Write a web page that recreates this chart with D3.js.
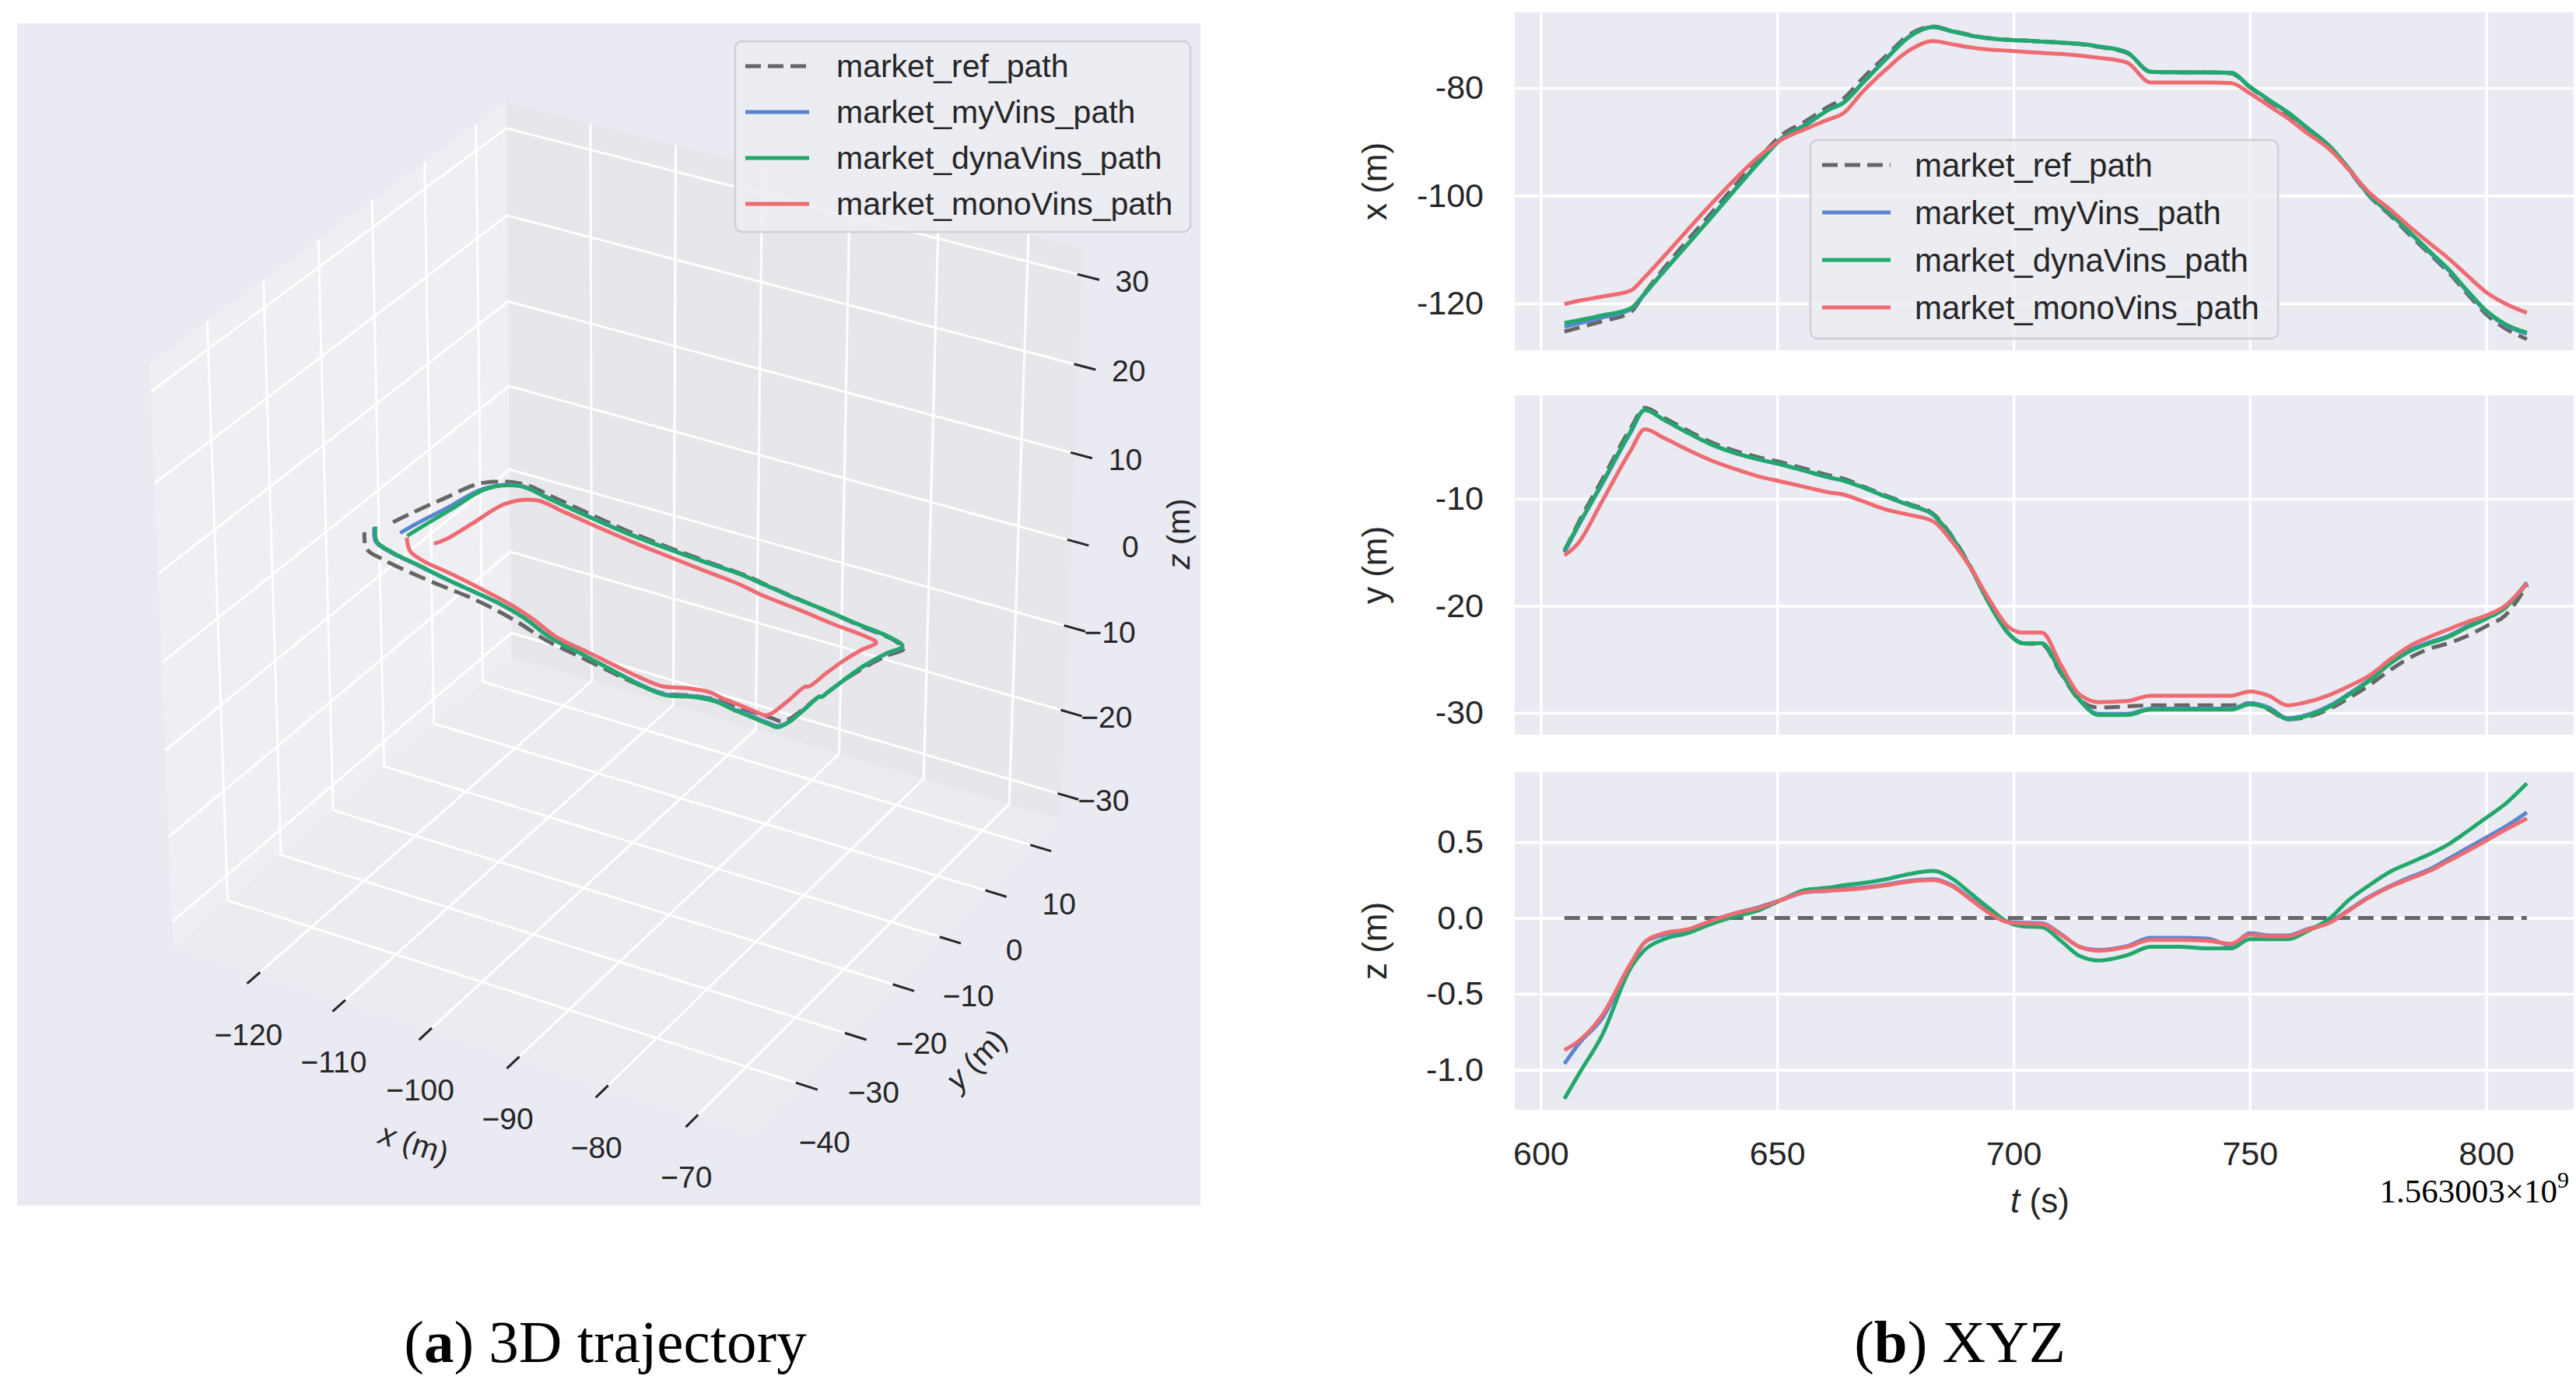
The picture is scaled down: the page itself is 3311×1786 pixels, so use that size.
<!DOCTYPE html>
<html lang="en">
<head>
  <meta charset="UTF-8">
  <title>market trajectory</title>
  <style>
    html, body { margin: 0; background: #fff; }
    svg { display: block; }
    text { font-family: "Liberation Sans", Arial, sans-serif; fill: #262626; }
    .serif { font-family: "Liberation Serif", "Times New Roman", serif; fill: #000; }
  </style>
</head>
<body>
<svg id="chart" width="3311" height="1786"></svg>
<script src="https://cdn.jsdelivr.net/npm/d3@7"></script>
<script>
// ---- data (t in s, offset 1.563003e9) ----
const t = [605, 608, 613, 619, 622, 626, 631, 636, 641, 646, 651, 656, 661, 664, 668, 673, 678, 683, 687, 691,
  695, 699, 702, 706, 710, 714, 718, 724, 729, 735, 741, 746, 750, 754, 758, 762, 767, 771, 775, 780,
  784, 788, 792, 796, 800, 804, 808.6]

const refX = [-125.2, -124.5, -123.3, -121.6, -118.0, -113.5, -108.3, -103.3, -98.2, -93.2, -88.7, -86.2, -83.4, -82.0, -78.3, -74.1, -70.1, -68.6, -69.4, -70.2,
  -70.8, -71.1, -71.2, -71.4, -71.6, -71.9, -72.4, -73.5, -77.0, -77.1, -77.1, -77.3, -79.9, -82.4, -84.8, -87.6, -91.2, -95.3, -99.8, -103.9,
  -107.4, -110.8, -114.2, -118.2, -122.0, -124.6, -126.6]
const refY = [-14.9, -12.2, -8.2, -3.4, -1.5, -2.4, -3.6, -4.7, -5.5, -6.1, -6.6, -7.2, -7.8, -8.1, -8.8, -9.7, -10.5, -11.4, -13.5, -16.4,
  -19.8, -22.6, -23.5, -23.6, -26.3, -28.8, -29.5, -29.4, -29.3, -29.3, -29.3, -29.3, -29.1, -29.7, -30.6, -30.4, -29.6, -28.6, -27.5, -25.9,
  -24.8, -24.0, -23.5, -22.8, -21.9, -20.9, -18.1]
const refZ = [0, 0, 0, 0, 0, 0, 0, 0, 0, 0, 0, 0, 0, 0, 0, 0, 0, 0, 0, 0,
  0, 0, 0, 0, 0, 0, 0, 0, 0, 0, 0, 0, 0, 0, 0, 0, 0, 0, 0, 0,
  0, 0, 0, 0, 0, 0, 0]

const myX = [-124.3, -123.7, -122.6, -121.1, -118.2, -114.0, -109.0, -104.0, -98.9, -93.9, -89.3, -86.8, -84.0, -82.7, -79.1, -74.6, -70.4, -68.7, -69.5, -70.3,
  -70.8, -71.1, -71.2, -71.4, -71.6, -71.8, -72.3, -73.4, -77.0, -77.1, -77.1, -77.2, -79.8, -82.2, -84.6, -87.4, -91.0, -95.1, -99.7, -103.6,
  -107.0, -110.5, -113.8, -117.8, -121.5, -124.0, -125.6]
const myY = [-15.0, -12.5, -8.6, -3.8, -1.7, -2.6, -3.8, -4.9, -5.7, -6.3, -6.8, -7.4, -8.0, -8.3, -8.9, -9.8, -10.6, -11.5, -13.6, -16.5,
  -19.9, -22.6, -23.5, -23.5, -26.2, -28.8, -30.1, -30.1, -29.6, -29.6, -29.6, -29.6, -29.1, -29.5, -30.5, -30.2, -29.3, -28.2, -27.0, -25.2,
  -24.1, -23.4, -22.8, -21.9, -21.1, -20.1, -17.8]
const myZ = [-0.96, -0.83, -0.66, -0.31, -0.16, -0.11, -0.08, -0.02, 0.03, 0.07, 0.12, 0.17, 0.18, 0.19, 0.20, 0.22, 0.245, 0.255, 0.215, 0.125,
  0.035, -0.025, -0.03, -0.035, -0.105, -0.19, -0.21, -0.185, -0.13, -0.13, -0.135, -0.18, -0.10, -0.115, -0.115, -0.075, -0.025, 0.055, 0.135, 0.215,
  0.27, 0.32, 0.39, 0.46, 0.53, 0.60, 0.695]

const dynaX = [-123.6, -123.1, -122.2, -120.9, -118.1, -114.1, -109.1, -104.1, -99.0, -94.0, -89.4, -86.9, -84.0, -82.8, -79.2, -74.7, -70.5, -68.7, -69.5, -70.3,
  -70.8, -71.1, -71.2, -71.4, -71.6, -71.8, -72.3, -73.4, -77.0, -77.1, -77.1, -77.2, -79.8, -82.2, -84.5, -87.3, -90.9, -95.0, -99.6, -103.5,
  -106.9, -110.3, -113.6, -117.6, -121.3, -123.8, -125.4]
const dynaY = [-14.8, -12.4, -8.5, -3.7, -1.7, -2.6, -3.8, -4.9, -5.7, -6.3, -6.8, -7.4, -8.0, -8.3, -8.9, -9.8, -10.6, -11.5, -13.6, -16.5,
  -19.9, -22.6, -23.5, -23.5, -26.2, -28.8, -30.2, -30.2, -29.7, -29.7, -29.7, -29.7, -29.2, -29.6, -30.6, -30.3, -29.4, -28.3, -27.1, -25.3,
  -24.2, -23.5, -22.9, -22.0, -21.2, -20.2, -17.9]
const dynaZ = [-1.19, -1.03, -0.77, -0.33, -0.21, -0.14, -0.10, -0.04, 0.01, 0.05, 0.12, 0.185, 0.20, 0.215, 0.23, 0.255, 0.29, 0.31, 0.26, 0.16,
  0.06, -0.03, -0.055, -0.06, -0.15, -0.25, -0.28, -0.245, -0.19, -0.19, -0.20, -0.20, -0.14, -0.14, -0.14, -0.09, 0.00, 0.12, 0.21, 0.31,
  0.365, 0.42, 0.485, 0.57, 0.66, 0.75, 0.887]

const monoX = [-120.1, -119.5, -118.7, -117.6, -115.1, -111.3, -106.4, -101.6, -97.0, -92.8, -89.6, -87.6, -85.8, -84.7, -80.8, -76.6, -73.0, -71.3, -71.9, -72.5,
  -72.9, -73.1, -73.3, -73.5, -73.7, -74.0, -74.4, -75.3, -79.0, -79.0, -79.0, -79.1, -81.0, -83.3, -85.6, -88.3, -91.5, -95.2, -99.2, -102.8,
  -105.9, -108.8, -111.6, -114.8, -117.9, -120.0, -121.7]
const monoY = [-15.3, -14.1, -10.2, -5.5, -3.5, -4.3, -5.4, -6.4, -7.2, -7.9, -8.4, -8.9, -9.4, -9.6, -10.2, -11.0, -11.5, -12.1, -14.0, -16.5,
  -19.5, -22.0, -22.5, -22.5, -25.5, -28.3, -29.0, -28.9, -28.4, -28.4, -28.4, -28.4, -28.0, -28.4, -29.3, -29.0, -28.3, -27.5, -26.6, -24.9,
  -23.7, -22.9, -22.2, -21.5, -20.9, -20.0, -17.9]
const monoZ = [-0.87, -0.81, -0.64, -0.30, -0.16, -0.10, -0.075, -0.02, 0.03, 0.065, 0.12, 0.17, 0.18, 0.185, 0.195, 0.215, 0.24, 0.25, 0.21, 0.12,
  0.03, -0.03, -0.035, -0.04, -0.11, -0.19, -0.215, -0.19, -0.145, -0.145, -0.15, -0.17, -0.11, -0.12, -0.12, -0.08, -0.03, 0.05, 0.13, 0.21,
  0.26, 0.31, 0.375, 0.44, 0.51, 0.58, 0.655]

const names = ['market_ref_path', 'market_myVins_path', 'market_dynaVins_path', 'market_monoVins_path']
const colors = ['#666666', '#5a86cf', '#22a86c', '#ee6b72']

// 3D axis ticks
const xTicks3 = [-120, -110, -100, -90, -80, -70]
const yTicks3 = [-40, -30, -20, -10, 0, 10]
const zTicks3 = [-30, -20, -10, 0, 10, 20, 30]
// XYZ ticks
const tTicks = [600, 650, 700, 750, 800]
const xTicks = [-120, -100, -80]
const yTicks = [-30, -20, -10]
const zTicks = [-1.0, -0.5, 0.0, 0.5]

const series = names.map((name, i) => ({
  name, color: colors[i], dashed: i === 0,
  x: [refX, myX, dynaX, monoX][i],
  y: [refY, myY, dynaY, monoY][i],
  z: [refZ, myZ, dynaZ, monoZ][i]
}))

const svg = d3.select('#chart')

function legend(g, x, y, w, h, rowY, rowStep, hx0, hx1, tx, fs) {
  const lg = g.append('g')
  lg.append('rect').attr('x', x).attr('y', y).attr('width', w).attr('height', h)
    .attr('rx', 9).attr('fill', 'rgb(236,236,243)').attr('fill-opacity', 0.85)
    .attr('stroke', '#cfcfd4').attr('stroke-width', 2.5)
  series.forEach((s, i) => {
    const yy = rowY + i * rowStep
    lg.append('line').attr('x1', hx0).attr('x2', hx1).attr('y1', yy).attr('y2', yy)
      .attr('stroke', s.color).attr('stroke-width', 5)
      .attr('stroke-dasharray', s.dashed ? '20,9' : null)
    lg.append('text').attr('x', tx).attr('y', yy).attr('dominant-baseline', 'central')
      .attr('font-size', fs).text(s.name)
  })
}

// ================= (a) 3D trajectory =================
const g3 = svg.append('g')
g3.append('rect').attr('x', 22).attr('y', 30).attr('width', 1521).attr('height', 1519).attr('fill', '#eaeaf2')

const xlim = [-130, -64], ylim = [-50, 16], zlim = [-33, 33]
const [x0, x1] = xlim, [y0, y1] = ylim, [z0, z1] = zlim
const nx = d3.scaleLinear().domain(xlim).range([-0.5, 0.5])
const ny = d3.scaleLinear().domain(ylim).range([-0.5, 0.5])
const nz = d3.scaleLinear().domain(zlim).range([-0.5, 0.5])

// camera like matplotlib: azim -60, elev 30, dist 10
const az = -60 * Math.PI / 180, el = 30 * Math.PI / 180, dist = 10
const nvec = [Math.cos(az) * Math.cos(el), Math.sin(az) * Math.cos(el), Math.sin(el)]
const uvec = [-Math.sin(az), Math.cos(az), 0]
const vvec = [-Math.sin(el) * Math.cos(az), -Math.sin(el) * Math.sin(az), Math.cos(el)]
const sx = d3.scaleLinear().domain([-0.1, 0.1]).range([802 - 856, 802 + 856])
const sy = d3.scaleLinear().domain([-0.1, 0.1]).range([772 + 856, 772 - 856])
const dot = (a, b) => a[0] * b[0] + a[1] * b[1] + a[2] * b[2]

function proj(x, y, z) {
  const q = [nx(x), ny(y), nz(z)]
  const d = dist - dot(nvec, q)
  return [sx(dot(uvec, q) / d), sy(dot(vvec, q) / d)]
}
const line3 = d3.line()
const path3 = pts => line3(pts.map(p => proj(...p)))

// panes
const panes = [
  { pts: [[x0, y0, z0], [x0, y1, z0], [x0, y1, z1], [x0, y0, z1]], fill: '#efeff3' },
  { pts: [[x0, y1, z0], [x1, y1, z0], [x1, y1, z1], [x0, y1, z1]], fill: '#e7e7eb' },
  { pts: [[x0, y0, z0], [x1, y0, z0], [x1, y1, z0], [x0, y1, z0]], fill: '#ececf0' }
]
g3.selectAll('path.pane').data(panes).join('path').attr('class', 'pane')
  .attr('d', d => path3(d.pts) + 'Z').attr('fill', d => d.fill)

// grid lines
const grid = []
xTicks3.forEach(v => grid.push([[v, y0, z0], [v, y1, z0], [v, y1, z1]]))
yTicks3.forEach(v => grid.push([[x1, v, z0], [x0, v, z0], [x0, v, z1]]))
zTicks3.forEach(v => grid.push([[x0, y0, v], [x0, y1, v], [x1, y1, v]]))
g3.selectAll('path.grid').data(grid).join('path').attr('class', 'grid')
  .attr('d', path3).attr('fill', 'none').attr('stroke', '#fff').attr('stroke-width', 3)

// tick marks and labels
const tin = 0.5, tout = 1.9
const fmt3 = d3.format('d')
const tickG = g3.append('g')
function tick3(a, b, lab, dx, dy, anchor) {
  tickG.append('path').attr('d', path3([a, b])).attr('stroke', '#262626').attr('stroke-width', 3)
  const p = proj(...a)
  tickG.append('text').attr('x', p[0] + dx).attr('y', p[1] + dy)
    .attr('text-anchor', anchor).attr('dominant-baseline', 'central')
    .attr('font-size', 39).text(lab)
}
xTicks3.forEach(v => tick3([v, y0 + tin, z0], [v, y0 - tout, z0], fmt3(v), -15, 80, 'middle'))
yTicks3.forEach(v => tick3([x1 - tin, v, z0], [x1 + tout, v, z0], fmt3(v), 37, 76, 'middle'))
zTicks3.forEach(v => tick3([x1 - tin, y1, v], [x1 + tout, y1, v], fmt3(v), 92, 9, 'end'))

// axis labels
function axLabel3(p, dx, dy, rot, v) {
  const tx = g3.append('text').attr('text-anchor', 'middle').attr('dominant-baseline', 'central')
    .attr('font-size', 40)
    .attr('transform', `translate(${p[0] + dx},${p[1] + dy}) rotate(${rot})`)
  tx.append('tspan').attr('font-style', 'italic').text(v)
  tx.append('tspan').text(' (m)')
}
axLabel3(proj(d3.mean(xlim), y0, z0), -53, 134, 18, 'x')
axLabel3(proj(x1, d3.mean(ylim), z0), 83, 113, -45, 'y')
axLabel3(proj(x1, y1, d3.mean(zlim)), 137, -9, -90, 'z')

// trajectories
const curve3 = d3.line().curve(d3.curveCatmullRom.alpha(0.5))
series.forEach(s => {
  const pts = t.map((_, i) => proj(s.x[i], s.y[i], s.z[i]))
  g3.append('path').attr('d', curve3(pts)).attr('fill', 'none')
    .attr('stroke', s.color).attr('stroke-width', 5).attr('stroke-linejoin', 'round')
    .attr('stroke-dasharray', s.dashed ? '22,9' : null)
})

legend(g3, 945, 53, 585, 245, 85, 59, 958, 1040, 1075, 41)

// ================= (b) XYZ =================
const gx = svg.append('g')
const tScale = d3.scaleLinear().domain([594.5, 818.5]).range([1947, 3308])
const panels = [
  { key: 'x', dom: [-128.66, -66.0], top: 16, bottom: 450, ticks: xTicks, fmt: d3.format('d') },
  { key: 'y', dom: [-32.04, -0.33], top: 508, bottom: 944, ticks: yTicks, fmt: d3.format('d') },
  { key: 'z', dom: [-1.263, 0.961], top: 992, bottom: 1426, ticks: zTicks, fmt: d3.format('.1f') }
]
const hy = s => s.replace('\u2212', '-')
const [L, R] = tScale.range()

panels.forEach((pn, k) => {
  const yS = d3.scaleLinear().domain(pn.dom).range([pn.bottom, pn.top])
  const pg = gx.append('g')
  pg.append('rect').attr('x', L).attr('y', pn.top).attr('width', R - L).attr('height', pn.bottom - pn.top)
    .attr('fill', '#eaeaf2')
  // vertical grid (and t labels on the last panel)
  const ax = pg.append('g').attr('transform', `translate(0,${pn.bottom})`)
    .call(d3.axisBottom(tScale).tickValues(tTicks).tickSize(-(pn.bottom - pn.top)).tickPadding(40)
      .tickFormat(k === 2 ? d3.format('d') : () => ''))
  const ay = pg.append('g').attr('transform', `translate(${L},0)`)
    .call(d3.axisLeft(yS).tickValues(pn.ticks).tickSize(-(R - L)).tickPadding(40)
      .tickFormat(d => hy(pn.fmt(d))))
  ;[ax, ay].forEach(a => {
    a.select('.domain').remove()
    a.selectAll('line').attr('stroke', '#fff').attr('stroke-width', 3.5)
    a.selectAll('text').attr('font-size', 43).attr('fill', '#262626')
      .style('font-family', '"Liberation Sans", Arial, sans-serif')
  })
  // lines
  series.forEach(s => {
    const ln = d3.line().x((d, i) => tScale(t[i])).y(d => yS(d)).curve(d3.curveMonotoneX)
    pg.append('path').datum(s[pn.key]).attr('d', ln).attr('fill', 'none')
      .attr('stroke', s.color).attr('stroke-width', 5).attr('stroke-linejoin', 'round')
      .attr('stroke-dasharray', s.dashed ? '20,10' : null)
  })
  // y label
  pg.append('text').attr('text-anchor', 'middle').attr('dominant-baseline', 'central')
    .attr('font-size', 44)
    .attr('transform', `translate(1766,${(pn.top + pn.bottom) / 2}) rotate(-90)`)
    .text(pn.key + ' (m)')
})

legend(gx, 2327, 180, 601, 255, 212, 61, 2342, 2430, 2461, 42)

const tl = gx.append('text').attr('x', 2622).attr('y', 1558).attr('text-anchor', 'middle').attr('font-size', 44)
tl.append('tspan').attr('font-style', 'italic').text('t')
tl.append('tspan').text(' (s)')

const off = gx.append('text').attr('class', 'serif').attr('x', 3302).attr('y', 1545)
  .attr('text-anchor', 'end').attr('font-size', 43)
off.append('tspan').text('1.563003×10')
off.append('tspan').attr('font-size', 30).attr('dy', -19).text('9')

// captions
function caption(x, letter, rest) {
  const c = svg.append('text').attr('class', 'serif').attr('x', x).attr('y', 1750)
    .attr('text-anchor', 'middle').attr('font-size', 77)
  c.append('tspan').text('(')
  c.append('tspan').attr('font-weight', 'bold').text(letter)
  c.append('tspan').text(') ' + rest)
}
caption(778, 'a', '3D trajectory')
caption(2519, 'b', 'XYZ')
</script>
</body>
</html>
